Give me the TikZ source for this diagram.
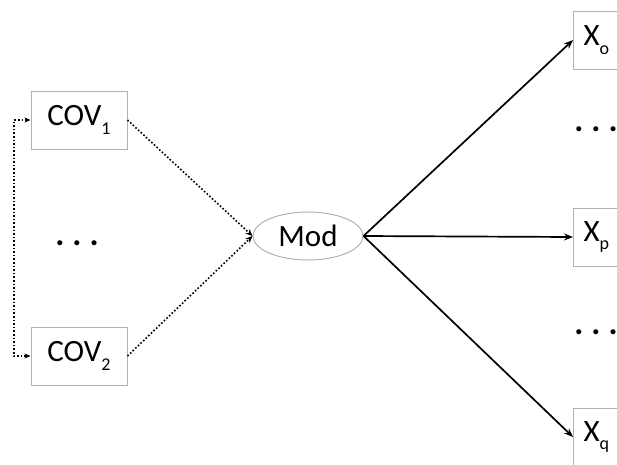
\documentclass[tikz,border=0pt]{standalone}
\usepackage{fontspec}
\setmainfont{Carlito}
\usetikzlibrary{arrows.meta,shapes.geometric}
\newcommand{\lowsub}[1]{\raisebox{-0.28em}{\fontsize{18}{18}\selectfont #1}}
\newcommand{\bigdots}{.\hspace{8pt}.\hspace{8pt}.}
\begin{document}
\begin{tikzpicture}[x=1pt,y=-1pt,
  every node/.style={font=\fontsize{31}{36}\selectfont},
  varbox/.style={draw=black!30,line width=1pt,rectangle,minimum width=96pt,minimum height=58pt,inner sep=0pt},
  outbox/.style={draw=black!30,line width=1pt,rectangle,minimum width=70pt,minimum height=58pt,
    inner sep=0pt,text width=50pt,align=left,anchor=west},
  modnode/.style={draw=black!30,line width=1pt,ellipse,minimum width=110pt,minimum height=48pt,inner sep=0pt},
  dotlink/.style={line width=1.6pt,dotted,-{Stealth[length=7pt,width=6pt]}},
  solidlink/.style={line width=1.7pt,-{Stealth[length=9pt,width=7pt]}},
  ellip/.style={font=\fontsize{34}{36}\selectfont\bfseries,inner sep=0pt}]
\useasboundingbox (0,0) rectangle (617,464);
\clip (0,0) rectangle (617,464);

% covariates
\node[varbox] (cov1) at (79,120) {COV\lowsub{1}};
\node[varbox] (cov2) at (79,356) {COV\lowsub{2}};
\node[ellip] (ldots) at (77,243) {\bigdots};

% moderator
\node[modnode] (mod) at (308,236) {Mod};

% outcomes
\node[outbox] (xo) at (573,40) {X\lowsub{o}};
\node[outbox] (xp) at (573,237) {X\lowsub{p}};
\node[outbox] (xq) at (573,437) {X\lowsub{q}};
\node[ellip] (rdots1) at (596,129) {\bigdots};
\node[ellip] (rdots2) at (596,332) {\bigdots};

% feedback loop between the covariates
\coordinate (loop) at (14,0);
\draw[line width=1.6pt,dotted,{Stealth[length=6pt,width=5pt]}-{Stealth[length=6pt,width=5pt]}]
  (cov1.west) -| (loop |- cov2.west) -- (cov2.west);

% covariates into the moderator
\draw[dotlink] (cov1.east) -- (mod.west);
\draw[dotlink] (cov2.east) -- (mod.west);

% moderator to outcomes
\draw[solidlink] (mod.east) -- (xo.west);
\draw[solidlink] (mod.east) -- (xp.west);
\draw[solidlink] (mod.east) -- (xq.west);
\end{tikzpicture}
\end{document}
